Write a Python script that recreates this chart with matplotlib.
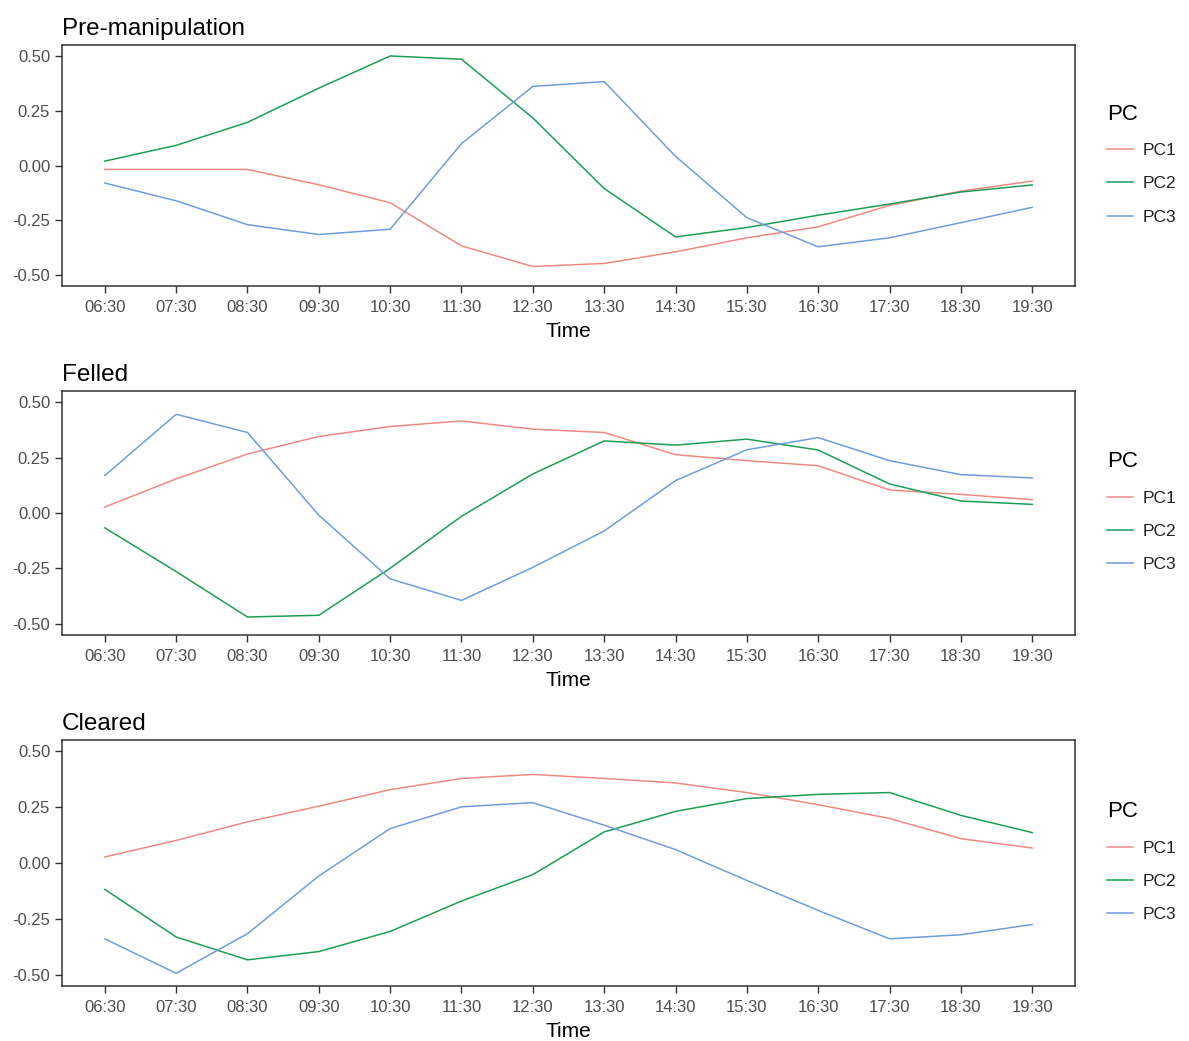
import matplotlib
matplotlib.use("Agg")
import matplotlib.pyplot as plt
import numpy as np

plt.rcParams['font.family'] = ['Liberation Sans', 'DejaVu Sans']

times = ["06:30", "07:30", "08:30", "09:30", "10:30", "11:30", "12:30",
         "13:30", "14:30", "15:30", "16:30", "17:30", "18:30", "19:30"]
components = ["PC1", "PC2", "PC3"]
panel_titles = ["Pre-manipulation", "Felled", "Cleared"]

# Loadings per treatment, one list per component
pre_pc1 = [-0.018, -0.018, -0.018, -0.088, -0.170, -0.367, -0.461,
           -0.447, -0.394, -0.330, -0.280, -0.182, -0.117, -0.071]
pre_pc2 = [0.020, 0.092, 0.197, 0.353, 0.500, 0.485, 0.217,
           -0.105, -0.326, -0.283, -0.227, -0.176, -0.121, -0.089]
pre_pc3 = [-0.080, -0.161, -0.270, -0.315, -0.291, 0.100, 0.361,
           0.383, 0.042, -0.238, -0.371, -0.330, -0.261, -0.191]

felled_pc1 = [0.027, 0.154, 0.266, 0.345, 0.390, 0.415, 0.378,
              0.363, 0.263, 0.236, 0.213, 0.104, 0.084, 0.060]
felled_pc2 = [-0.067, -0.264, -0.469, -0.461, -0.249, -0.015, 0.176,
              0.325, 0.306, 0.333, 0.284, 0.131, 0.054, 0.039]
felled_pc3 = [0.169, 0.445, 0.363, -0.010, -0.297, -0.394, -0.245,
              -0.081, 0.146, 0.285, 0.340, 0.236, 0.173, 0.158]

cleared_pc1 = [0.027, 0.101, 0.184, 0.254, 0.328, 0.378, 0.396,
               0.378, 0.358, 0.315, 0.261, 0.199, 0.109, 0.067]
cleared_pc2 = [-0.118, -0.331, -0.433, -0.396, -0.306, -0.170, -0.052,
               0.139, 0.231, 0.288, 0.307, 0.315, 0.213, 0.136]
cleared_pc3 = [-0.339, -0.493, -0.316, -0.058, 0.154, 0.251, 0.270,
               0.169, 0.060, -0.078, -0.212, -0.339, -0.321, -0.275]

y_ticks = [-0.50, -0.25, 0.00, 0.25, 0.50]
colors = ["#EE8A82", "#1E9E55", "#6E9EDB"]

panels = [
    (pre_pc1, pre_pc2, pre_pc3),
    (felled_pc1, felled_pc2, felled_pc3),
    (cleared_pc1, cleared_pc2, cleared_pc3),
]

W, H = 1189, 1041
fig = plt.figure(figsize=(W / 100, H / 100), dpi=100)

# panel boxes in pixels: (left, top, right, bottom)
boxes = [(62, 45, 1075, 286), (62, 391, 1075, 635), (62, 740, 1075, 986)]

x = np.arange(len(times))
for (series, title, box) in zip(panels, panel_titles, boxes):
    l, t, r, b = box
    ax = fig.add_axes([l / W, 1 - b / H, (r - l) / W, (b - t) / H])
    for vals, name, c in zip(series, components, colors):
        ax.plot(x, vals, color=c, lw=1.1, label=name)
    ax.set_xlim(-0.6, len(times) - 0.4)
    ax.set_ylim(-0.55, 0.55)
    ax.set_xticks(x)
    ax.set_xticklabels(times)
    ax.set_yticks(y_ticks)
    ax.set_yticklabels([f"{v:.2f}" for v in y_ticks])
    ax.tick_params(axis='both', labelsize=12, labelcolor='#4D4D4D',
                   color='#333333', length=5, width=1)
    ax.tick_params(axis='x', pad=5)
    for sp in ax.spines.values():
        sp.set_color('#333333')
        sp.set_linewidth(1.1)
    ax.set_xlabel("Time", fontsize=15, color='black', labelpad=5)
    ax.set_title(title, loc='left', fontsize=17.5, pad=7, color='black')
    leg = ax.legend(loc='center left', bbox_to_anchor=(1.016, 0.505),
                    frameon=False, title="PC", fontsize=12.5,
                    title_fontsize=16, handlelength=1.5, handletextpad=0.55,
                    labelspacing=1.05, alignment='left')
    for txt in leg.get_texts():
        txt.set_color('#222222')

fig.savefig("out.png", dpi=100, facecolor='white')
